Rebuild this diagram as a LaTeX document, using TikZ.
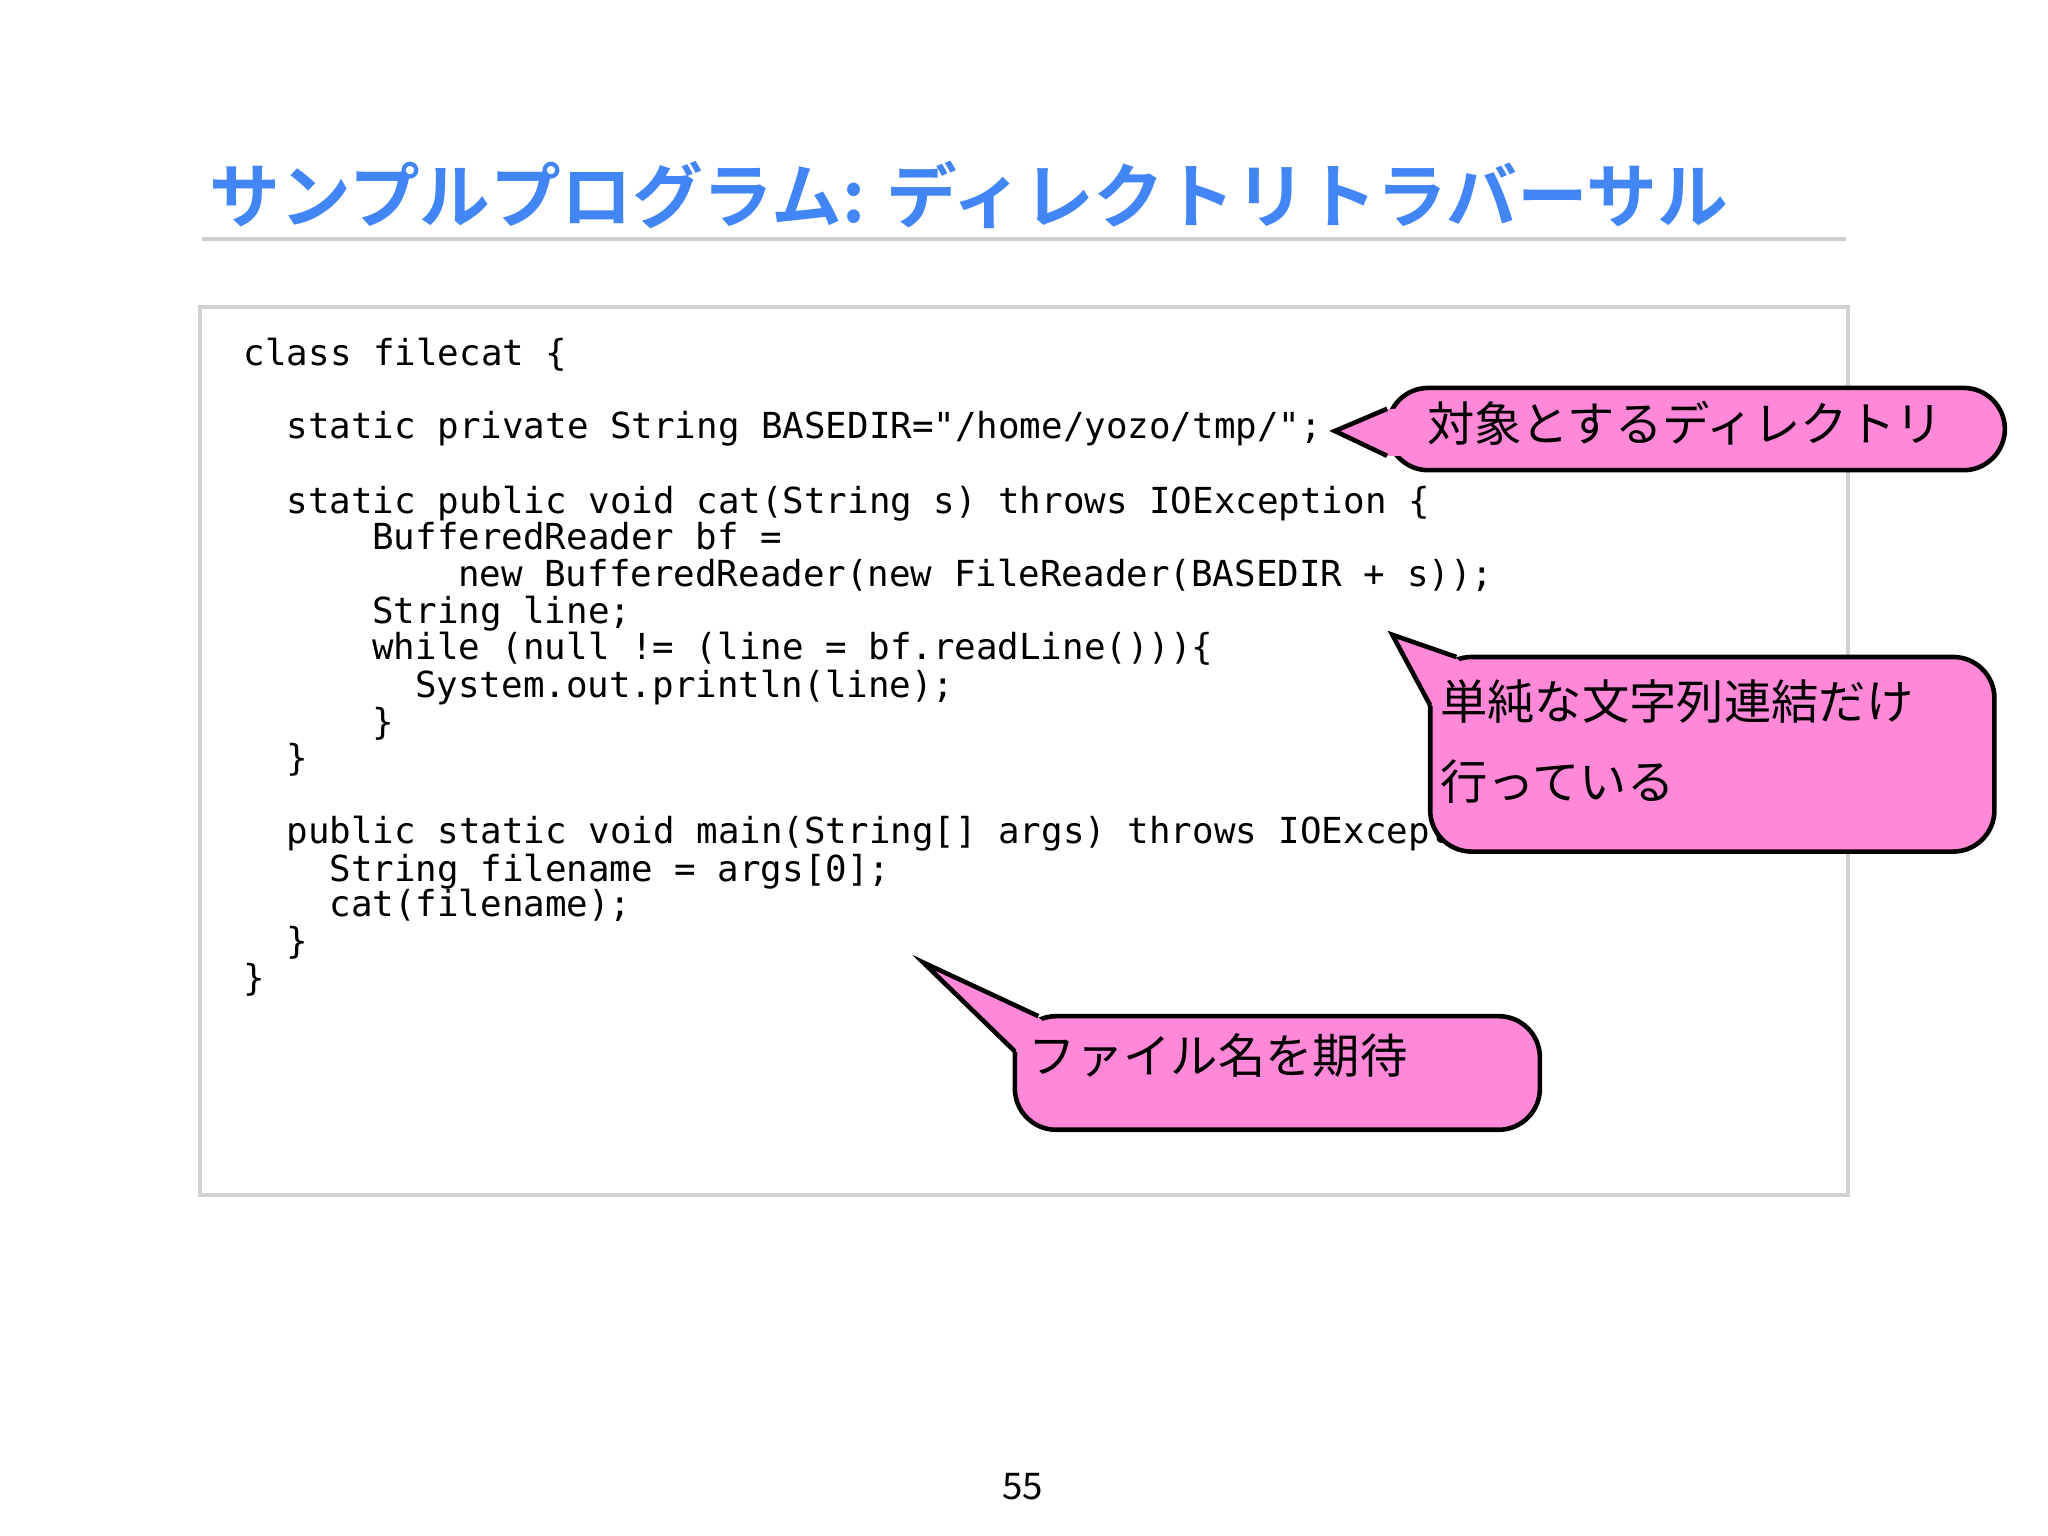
\documentclass[tikz,border=0pt]{standalone}
\usepackage{fontspec}
\setmainfont{Noto Sans CJK JP}
\newfontfamily\jp{Noto Sans CJK JP}
\newfontfamily\jpb{Noto Sans CJK JP Bold}
\setmonofont{DejaVu Sans Mono}
\definecolor{ttl}{RGB}{66,133,244}
\definecolor{pinkc}{RGB}{255,136,216}
\begin{document}
\begin{tikzpicture}[x=0.01cm,y=-0.01cm,
  code/.style={anchor=base west,inner sep=0,font=\ttfamily\fontsize{7.8pt}{8pt}\selectfont},
  bub/.style={fill=pinkc,draw=black,line width=1pt,rounded corners=9pt},
  btxt/.style={anchor=base west,inner sep=0,font=\jp\fontsize{10.3pt}{12pt}\selectfont}]
\useasboundingbox[fill=white] (0,0) rectangle (1568,1176);
\node[anchor=base west,inner sep=0,text=ttl,font=\jpb\fontsize{15.4pt}{17pt}\selectfont] (title) at (160,170) {サンプルプログラム: ディレクトリトラバーサル};
\draw[gray!40,line width=0.8pt] (155,183) -- (1413,183);
\draw[gray!35,line width=1pt] (153,235) rectangle (1415,915);
\newcommand\cl[4]{\node[code] (#1) at ({186+16.4*#2},#3+3) {#4};}
\cl{c1}{0}{277}{class filecat \{}
\cl{c2}{2}{333}{static private String BASEDIR="/home/yozo/tmp/";}
\cl{c3}{2}{390}{static public void cat(String s) throws IOException \{}
\cl{c4}{6}{418}{BufferedReader bf =}
\cl{c5}{10}{446}{new BufferedReader(new FileReader(BASEDIR + s));}
\cl{c6}{6}{474}{String line;}
\cl{c7}{6}{502}{while (null != (line = bf.readLine()))\{}
\cl{c8}{8}{531}{System.out.println(line);}
\cl{c9}{6}{559}{\}}
\cl{c10}{2}{587}{\}}
\cl{c11}{2}{643}{public static void main(String[] args) throws IOException \{}
\cl{c12}{4}{672}{String filename = args[0];}
\cl{c13}{4}{699}{cat(filename);}
\cl{c14}{2}{727}{\}}
\cl{c15}{0}{755}{\}}
% callout 1
\draw[bub] (1062,297) rectangle (1535,360);
\fill[pinkc] (1022,330) -- (1063,313) -- (1075,313) -- (1075,349) -- (1063,349) -- cycle;
\draw[line width=1pt,line join=miter] (1062,313) -- (1022,330) -- (1062,349);
\node[btxt] (t1) at (1092,338) {対象とするディレクトリ};
% callout 2
\draw[bub] (1095,503) rectangle (1527,652);
\fill[pinkc] (1066,486) -- (1115,504) -- (1125,512) -- (1104,545) -- (1096,540) -- cycle;
\draw[line width=1pt,line join=miter] (1115,503) -- (1066,486) -- (1095,540);
\node[btxt] (t2) at (1102,551) {単純な文字列連結だけ};
\node[btxt] (t3) at (1102,612) {行っている};
% callout 3
\draw[bub] (777,778) rectangle (1179,865);
\fill[pinkc] (707,737) -- (795,779) -- (805,787) -- (786,812) -- (778,805) -- cycle;
\draw[line width=1pt,line join=miter] (795,778) -- (707,737) -- (777,805);
\node[btxt] (t4) at (787,822) {ファイル名を期待};
\node[inner sep=0,font=\jp\fontsize{8pt}{9pt}\selectfont] (pg) at (783,1138) {55};
\end{tikzpicture}
\end{document}
